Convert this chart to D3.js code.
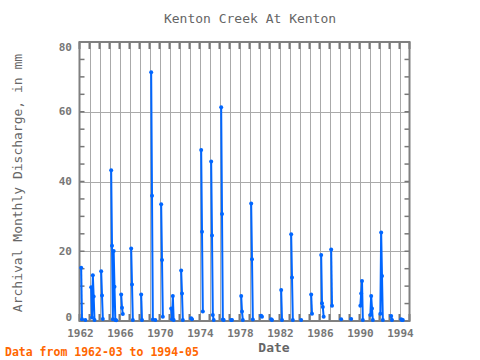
<!DOCTYPE html>
<html><head><meta charset="utf-8">
<script src="https://cdn.jsdelivr.net/npm/d3@7"></script>
<style>body{margin:0;background:#fff}svg{display:block}</style>
</head><body>
<svg id="c" width="480" height="360"></svg>
<script>
const title = "Kenton Creek At Kenton";
const yLabel = "Archival Monthly Discharge, in mm";
const xLabel = "Date";
const footer = "Data from 1962-03 to 1994-05";
const xTickLabels = [1962,1966,1970,1974,1978,1982,1986,1990,1994];
const yTickLabels = [0,20,40,60,80];

const dates = [
 "1962-03","1962-04","1962-08",
 "1963-03","1963-04","1963-05","1963-06","1963-07",
 "1964-03","1964-04","1964-05",
 "1965-03","1965-04","1965-05","1965-06","1965-07","1965-08","1965-09",
 "1966-03","1966-04","1966-05",
 "1967-03","1967-04","1967-05",
 "1968-03","1968-04",
 "1969-03","1969-04","1969-05","1969-08",
 "1970-03","1970-04","1970-05",
 "1971-03","1971-04","1971-05","1971-06",
 "1972-03","1972-04","1972-05",
 "1973-03","1973-04",
 "1974-03","1974-04","1974-05",
 "1975-03","1975-04","1975-05","1975-06",
 "1976-03","1976-04","1976-05","1976-06",
 "1977-03","1977-04",
 "1978-03","1978-04","1978-05",
 "1979-03","1979-04","1979-05",
 "1980-03","1980-04",
 "1981-03","1981-04",
 "1982-03","1982-04",
 "1983-03","1983-04","1983-05",
 "1984-03",
 "1985-03","1985-04",
 "1986-03","1986-04","1986-05","1986-06",
 "1987-03","1987-04",
 "1988-03",
 "1989-03",
 "1990-02","1990-03","1990-04","1990-05",
 "1991-02","1991-03","1991-04","1991-05",
 "1992-02","1992-03","1992-04","1992-05",
 "1993-03","1993-04",
 "1994-03","1994-04","1994-05"
];
const values = [
 15.3,0.5,0.3,
 9.7,1.0,13.1,7.0,0.3,
 14.3,7.3,0.6,
 43.2,21.6,0.5,20.1,9.8,0.3,0.2,
 7.6,3.8,2.0,
 20.8,10.5,0.3,
 7.6,0.3,
 71.3,35.9,0.4,0.3,
 33.5,17.5,1.2,
 3.6,0.5,7.2,0.3,
 14.5,7.9,0.3,
 0.8,0.5,
 49.0,25.6,2.7,
 45.7,24.5,1.7,0.3,
 61.3,30.7,0.4,0.3,
 0.3,0.3,
 7.2,2.7,0.3,
 33.7,17.7,0.4,
 1.5,1.2,
 0.5,0.3,
 8.9,0.3,
 24.9,12.5,0.3,
 0.3,
 7.6,2.1,
 18.9,5.1,4.0,1.2,
 20.5,4.4,
 0.5,
 0.6,
 4.4,7.9,11.5,0.3,
 1.7,7.2,3.6,0.3,
 2.1,25.4,12.9,0.3,
 1.4,0.3,
 0.5,0.3,0.3
];

const svg = d3.select("#c");
const font = "'DejaVu Sans Mono', monospace";
const L = 79.5, R = 409.5, T = 42, B = 321;
const x = d3.scaleLinear().domain([1962, 1995]).range([L, R]);
const y = d3.scaleLinear().domain([0, 80]).range([B, T]);

const pts = dates.map((s, i) => {
  const [yy, mm] = s.split("-").map(Number);
  return {t: yy + (mm - 1) / 12, m: yy * 12 + mm - 1, v: values[i]};
});
// split into runs of consecutive months
const segs = [];
pts.forEach((p, i) => {
  if (i === 0 || p.m !== pts[i - 1].m + 1) segs.push([]);
  segs[segs.length - 1].push(p);
});

// grid
const g = svg.append("g");
const yearTicks = d3.range(1962, 1996);
g.selectAll(".vg").data(yearTicks.slice(1, -1)).join("line")
  .attr("x1", d => Math.round(x(d)) + 0.5).attr("x2", d => Math.round(x(d)) + 0.5)
  .attr("y1", T).attr("y2", B).attr("stroke", "#aaaaaa").attr("stroke-width", 1);
g.selectAll(".hg").data([20, 40, 60]).join("line")
  .attr("x1", L).attr("x2", R)
  .attr("y1", d => Math.round(y(d)) + 0.5).attr("y2", d => Math.round(y(d)) + 0.5)
  .attr("stroke", "#aaaaaa").attr("stroke-width", 1);

// ticks on frame
const tickCol = "#777777";
g.selectAll(".tt").data(yearTicks).join("line")
  .attr("x1", d => x(d)).attr("x2", d => x(d))
  .attr("y1", T).attr("y2", T + 7).attr("stroke", tickCol).attr("stroke-width", 2);
g.selectAll(".bt").data(yearTicks).join("line")
  .attr("x1", d => x(d)).attr("x2", d => x(d))
  .attr("y1", B).attr("y2", B - 7).attr("stroke", tickCol).attr("stroke-width", 2);
const minor = d3.range(0, 81, 5);
g.selectAll(".lt").data(minor).join("line")
  .attr("x1", L).attr("x2", L + 5)
  .attr("y1", d => y(d)).attr("y2", d => y(d)).attr("stroke", tickCol).attr("stroke-width", 1.5);
g.selectAll(".rt").data(minor).join("line")
  .attr("x1", R).attr("x2", R - 5)
  .attr("y1", d => y(d)).attr("y2", d => y(d)).attr("stroke", tickCol).attr("stroke-width", 1.5);

// frame
g.append("rect").attr("x", L).attr("y", T).attr("width", R - L).attr("height", B - T)
  .attr("fill", "none").attr("stroke", "#808080").attr("stroke-width", 2);

// data
const blue = "#0066ff";
const line = d3.line().x(d => x(d.t)).y(d => y(d.v));
svg.append("g").selectAll("path").data(segs).join("path")
  .attr("d", line).attr("fill", "none").attr("stroke", blue).attr("stroke-width", 2);
svg.append("g").selectAll("circle").data(pts).join("circle")
  .attr("cx", d => x(d.t)).attr("cy", d => y(d.v)).attr("r", 2).attr("fill", blue);

// axis labels
svg.append("g").selectAll("text").data(yTickLabels).join("text")
  .attr("x", 72).attr("y", d => Math.min(317, Math.max(47, y(d))))
  .attr("text-anchor", "end").attr("dominant-baseline", "central")
  .attr("font-family", font).attr("font-size", 11).attr("font-weight", "bold")
  .attr("fill", "#777").text(d => d);
svg.append("g").selectAll("text").data(xTickLabels).join("text")
  .attr("x", d => x(d) + 1).attr("y", 333.5)
  .attr("text-anchor", "middle").attr("dominant-baseline", "central")
  .attr("font-family", font).attr("font-size", 11).attr("font-weight", "bold")
  .attr("fill", "#777").text(d => d);

svg.append("text").attr("x", 250).attr("y", 18).attr("text-anchor", "middle")
  .attr("dominant-baseline", "central").attr("font-family", font).attr("font-size", 13)
  .attr("fill", "#666").text(title);
svg.append("text").attr("transform", "translate(17,183) rotate(-90)").attr("text-anchor", "middle")
  .attr("dominant-baseline", "central").attr("font-family", font).attr("font-size", 13)
  .attr("fill", "#666").text(yLabel);
svg.append("text").attr("x", 274).attr("y", 347).attr("text-anchor", "middle")
  .attr("dominant-baseline", "central").attr("font-family", font).attr("font-size", 13)
  .attr("font-weight", "bold").attr("fill", "#666").text(xLabel);
svg.append("text").attr("x", 5).attr("y", 352).attr("text-anchor", "start")
  .attr("dominant-baseline", "central").attr("font-family", font).attr("font-size", 11.5)
  .attr("font-weight", "bold").attr("fill", "#ff6600").text(footer);
</script>
</body></html>
